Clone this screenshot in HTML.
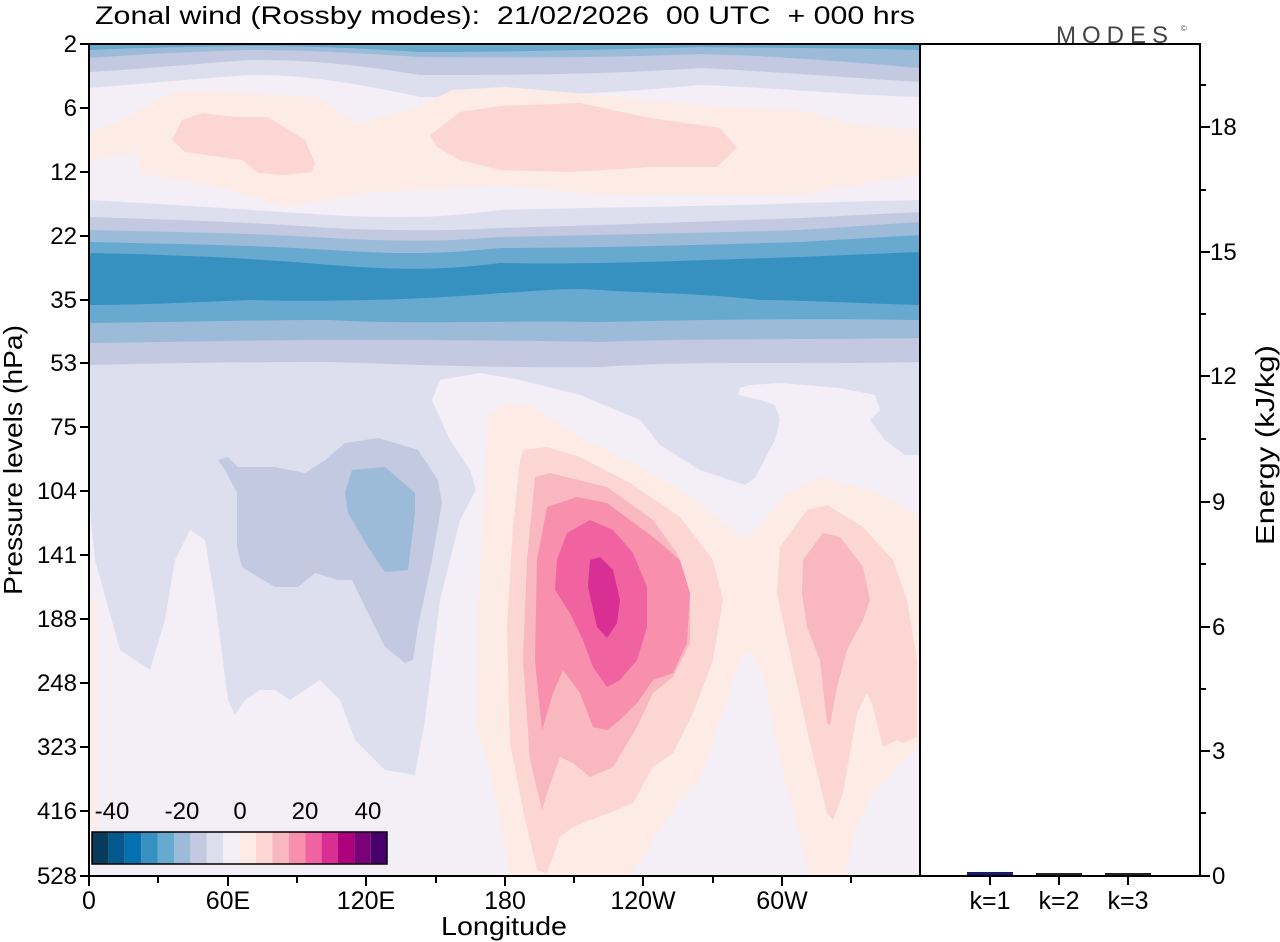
<!DOCTYPE html>
<html><head><meta charset="utf-8"><style>
body{margin:0;background:#fff;}
svg{display:block;font-family:"Liberation Sans",sans-serif;}
</style></head><body>
<svg width="1280" height="942" viewBox="0 0 1280 942" xmlns="http://www.w3.org/2000/svg">
<defs><clipPath id="cp"><rect x="89" y="44" width="831" height="832"/></clipPath></defs>
<g clip-path="url(#cp)">
<rect x="89" y="44" width="831" height="832" fill="#f4eff6"/>
<path d="M89,44 L920,44 L920,97 C850,95 780,88 700,85 C600,95 500,97 420,97 C340,80 300,75 250,75 C180,80 130,85 89,88 Z" fill="#dedfee"/>
<path d="M89,44 L920,44 L920,82 C850,78 780,72 700,68 C600,75 500,75 420,75 C340,62 300,60 250,60 C180,65 130,70 89,72 Z" fill="#c3c9e1"/>
<path d="M89,44 L920,44 L920,68 C850,62 780,56 700,54 C600,58 500,58 420,57 C340,52 300,50 250,50 C180,52 130,55 89,58 Z" fill="#9bbbd9"/>
<path d="M89,44 L920,44 L920,50 C850,48 780,48 700,47 C600,50 500,52 420,52 C340,47 300,46 250,46 C180,47 130,48 89,50 Z" fill="#67a9cf"/>
<path d="M89,133 L122,120 L162,97 L185,90 L318,97 L358,123 L418,107 L452,90 L505,87 L600,95 L700,105 L800,110 L860,125 L920,130 L920,175 L860,185 L800,195 L700,195 L600,195 L505,185 L420,190 L368,193 L285,207 L218,187 L138,173 L138,153 L92,160 L89,160 Z" fill="#fdebe6"/>
<path d="M172,140 L182,120 L202,113 L235,117 L268,117 L305,140 L315,163 L312,172 L285,175 L258,173 L242,160 L185,152 Z" fill="#fbd6d3"/>
<path d="M430,135 L460,112 L500,106 L580,103 L650,118 L720,128 L737,148 L717,167 L650,167 L570,172 L500,170 L460,160 L437,147 Z" fill="#fbd6d3"/>
<path d="M89,200 C180,205 250,210 330,215 C420,220 460,215 500,210 C600,207 700,207 800,203 L920,200 L920,455 L905,455 L885,440 L870,420 L880,410 L875,395 L840,388 L780,383 L750,385 L740,388 L738,395 L760,400 L775,405 L780,420 L775,440 L755,478 L745,485 L700,470 L660,445 L640,420 L580,395 L520,380 L480,373 L440,380 L432,400 L450,440 L470,470 L476,490 L460,520 L440,600 L425,720 L415,775 L385,770 L355,740 L340,700 L320,680 L305,690 L290,700 L275,690 L260,690 L245,700 L235,715 L228,700 L215,600 L205,540 L190,530 L175,560 L165,620 L150,670 L120,650 L95,560 L89,500 Z" fill="#dedfee"/>
<path d="M89,217 C180,220 250,222 330,228 C420,232 460,230 500,228 C600,225 700,222 800,218 L920,212 L920,362 C800,365 700,360 600,367 C500,368 420,365 330,362 C250,362 180,363 89,365 Z" fill="#c3c9e1"/>
<path d="M89,230 C180,232 250,233 330,238 C420,243 460,240 500,237 C600,235 700,233 800,230 L920,222 L920,338 C800,340 700,338 600,342 C500,340 420,340 330,340 C250,340 180,342 89,343 Z" fill="#9bbbd9"/>
<path d="M89,242 C180,244 250,245 330,250 C420,256 460,252 500,248 C600,248 700,245 800,242 L920,235 L920,320 C800,318 700,320 600,322 C500,320 420,325 330,320 C250,320 180,322 89,323 Z" fill="#67a9cf"/>
<path d="M89,253 C180,255 250,258 330,265 C420,272 460,268 500,263 C600,265 700,260 800,257 L920,252 L920,305 C850,303 800,300 760,300 C700,293 640,293 600,290 C560,287 520,293 500,293 C420,300 330,302 250,300 C180,303 130,305 89,305 Z" fill="#3690c0"/>
<path d="M218,460 L228,457 L238,467 L275,467 L305,473 L325,460 L345,443 L378,438 L418,450 L438,480 L442,503 L432,560 L418,627 L413,660 L405,663 L385,647 L368,613 L352,580 L338,580 L315,573 L298,587 L275,587 L258,577 L242,567 L237,547 L237,493 L225,470 Z" fill="#c3c9e1"/>
<path d="M345,493 L352,470 L385,467 L415,493 L415,513 L408,570 L385,572 L368,547 L348,513 Z" fill="#9bbbd9"/>
<path d="M490,413 L507,403 L533,407 L580,437 L647,470 L697,500 L740,537 L753,533 L787,493 L820,477 L880,493 L913,513 L920,520 L920,745 L890,775 L870,800 L855,830 L845,876 L810,876 L790,800 L775,740 L765,680 L750,650 L740,660 L720,720 L700,780 L680,800 L630,876 L510,876 L495,793 L477,727 L478,610 L488,417 Z" fill="#fdebe6"/>
<rect x="89" y="600" width="10" height="230" fill="#fdebe6" opacity="0.6"/>
<path d="M520,460 L523,450 L547,447 L580,457 L630,483 L680,517 L713,560 L723,600 L713,660 L693,713 L673,753 L653,767 L633,803 L617,810 L590,820 L573,827 L560,837 L547,873 L537,870 L523,810 L510,743 L507,627 L513,527 Z" fill="#fbd6d3"/>
<path d="M777,593 L780,547 L807,510 L827,505 L863,527 L893,560 L907,600 L917,660 L917,737 L903,743 L897,740 L883,747 L873,707 L867,693 L857,713 L843,793 L833,820 L827,813 L810,743 L790,653 Z" fill="#fbd6d3"/>
<path d="M527,560 L535,477 L550,473 L607,487 L653,520 L677,553 L690,593 L690,643 L673,677 L653,693 L637,727 L613,767 L590,777 L573,763 L560,757 L547,793 L542,810 L530,760 L523,660 Z" fill="#f9b7bf"/>
<path d="M802,593 L803,560 L823,533 L840,537 L863,567 L870,600 L863,620 L847,650 L837,687 L830,725 L827,723 L820,660 L807,627 Z" fill="#f9b7bf"/>
<path d="M537,560 L547,507 L577,497 L607,503 L653,537 L680,560 L690,593 L687,643 L673,673 L653,680 L637,703 L620,720 L607,730 L593,727 L580,693 L563,670 L553,693 L542,730 L535,660 Z" fill="#f78fad"/>
<path d="M557,560 L567,533 L590,520 L613,530 L633,553 L647,587 L647,627 L637,660 L620,680 L607,687 L593,667 L583,640 L570,613 L555,590 Z" fill="#f062a0"/>
<path d="M588,587 L590,560 L600,557 L613,570 L620,600 L617,623 L607,638 L597,627 Z" fill="#d92f95"/>
</g>
<g>
<rect x="92" y="832" width="16.4" height="32" fill="#083a5a"/>
<rect x="108.4" y="832" width="16.4" height="32" fill="#055a8c"/>
<rect x="124.8" y="832" width="16.4" height="32" fill="#0570b0"/>
<rect x="141.2" y="832" width="16.4" height="32" fill="#3690c0"/>
<rect x="157.6" y="832" width="16.4" height="32" fill="#67a9cf"/>
<rect x="174" y="832" width="16.4" height="32" fill="#9bbbd9"/>
<rect x="190.4" y="832" width="16.4" height="32" fill="#c3c9e1"/>
<rect x="206.8" y="832" width="16.4" height="32" fill="#dedfee"/>
<rect x="223.2" y="832" width="16.4" height="32" fill="#f4eff6"/>
<rect x="239.6" y="832" width="16.4" height="32" fill="#fdebe6"/>
<rect x="256" y="832" width="16.4" height="32" fill="#fbd6d3"/>
<rect x="272.4" y="832" width="16.4" height="32" fill="#f9b7bf"/>
<rect x="288.8" y="832" width="16.4" height="32" fill="#f78fad"/>
<rect x="305.2" y="832" width="16.4" height="32" fill="#f062a0"/>
<rect x="321.6" y="832" width="16.4" height="32" fill="#d92f95"/>
<rect x="338" y="832" width="16.4" height="32" fill="#ae017e"/>
<rect x="354.4" y="832" width="16.4" height="32" fill="#7a0177"/>
<rect x="370.8" y="832" width="16.2" height="32" fill="#49006a"/>
<rect x="92" y="832" width="295" height="32" fill="none" stroke="#000" stroke-width="1.5"/>
<g font-size="24" text-anchor="middle" fill="#000">
<text x="112" y="819">-40</text><text x="182" y="819">-20</text><text x="240" y="819">0</text><text x="305" y="819">20</text><text x="368" y="819">40</text>
</g>
</g>
<g stroke="#000" stroke-width="2" fill="none">
<rect x="89" y="44" width="1111" height="832"/>
<line x1="920" y1="44" x2="920" y2="876"/>
</g>
<rect x="967" y="872" width="46" height="3" fill="#1a1a6e"/>
<rect x="1036" y="873" width="46" height="2" fill="#222"/>
<rect x="1105" y="873" width="46" height="2" fill="#222"/>
<g stroke="#000" stroke-width="2">
<line x1="80" y1="44" x2="89" y2="44"/><line x1="80" y1="108" x2="89" y2="108"/><line x1="80" y1="172" x2="89" y2="172"/><line x1="80" y1="236" x2="89" y2="236"/><line x1="80" y1="300" x2="89" y2="300"/><line x1="80" y1="363" x2="89" y2="363"/><line x1="80" y1="427" x2="89" y2="427"/><line x1="80" y1="491" x2="89" y2="491"/><line x1="80" y1="555" x2="89" y2="555"/><line x1="80" y1="619" x2="89" y2="619"/><line x1="80" y1="683" x2="89" y2="683"/><line x1="80" y1="747" x2="89" y2="747"/><line x1="80" y1="811" x2="89" y2="811"/><line x1="80" y1="876" x2="89" y2="876"/>
<line x1="89" y1="876" x2="89" y2="886"/><line x1="158" y1="876" x2="158" y2="883"/><line x1="228" y1="876" x2="228" y2="886"/><line x1="297" y1="876" x2="297" y2="883"/><line x1="366" y1="876" x2="366" y2="886"/><line x1="436" y1="876" x2="436" y2="883"/><line x1="505" y1="876" x2="505" y2="886"/><line x1="574" y1="876" x2="574" y2="883"/><line x1="643" y1="876" x2="643" y2="886"/><line x1="713" y1="876" x2="713" y2="883"/><line x1="782" y1="876" x2="782" y2="886"/><line x1="851" y1="876" x2="851" y2="883"/>
<line x1="990" y1="876" x2="990" y2="885"/><line x1="1059" y1="876" x2="1059" y2="885"/><line x1="1128" y1="876" x2="1128" y2="885"/>
<line x1="1200" y1="876" x2="1210" y2="876"/><line x1="1200" y1="813" x2="1206" y2="813"/><line x1="1200" y1="751" x2="1210" y2="751"/><line x1="1200" y1="689" x2="1206" y2="689"/><line x1="1200" y1="627" x2="1210" y2="627"/><line x1="1200" y1="564" x2="1206" y2="564"/><line x1="1200" y1="502" x2="1210" y2="502"/><line x1="1200" y1="439" x2="1206" y2="439"/><line x1="1200" y1="376" x2="1210" y2="376"/><line x1="1200" y1="314" x2="1206" y2="314"/><line x1="1200" y1="252" x2="1210" y2="252"/><line x1="1200" y1="190" x2="1206" y2="190"/><line x1="1200" y1="127" x2="1210" y2="127"/><line x1="1200" y1="85" x2="1206" y2="85"/>
</g>
<g font-size="24" text-anchor="end" fill="#000">
<text x="77" y="52">2</text><text x="77" y="116">6</text><text x="77" y="180">12</text><text x="77" y="244">22</text><text x="77" y="308">35</text><text x="77" y="371">53</text><text x="77" y="435">75</text><text x="77" y="499">104</text><text x="77" y="563">141</text><text x="77" y="627">188</text><text x="77" y="691">248</text><text x="77" y="755">323</text><text x="77" y="819">416</text><text x="77" y="884">528</text>
</g>
<g font-size="24" text-anchor="start" fill="#000">
<text x="1212" y="884">0</text><text x="1212" y="759">3</text><text x="1212" y="635">6</text><text x="1212" y="510">9</text><text x="1210" y="384">12</text><text x="1210" y="260">15</text><text x="1210" y="135">18</text>
</g>
<g font-size="25" text-anchor="middle" fill="#000">
<text x="89" y="909">0</text><text x="228" y="909">60E</text><text x="366" y="909">120E</text><text x="505" y="909">180</text><text x="643" y="909">120W</text><text x="782" y="909">60W</text>
<text x="990" y="909">k=1</text><text x="1059" y="909">k=2</text><text x="1128" y="909">k=3</text>
<text x="504" y="935" font-size="26" textLength="126" lengthAdjust="spacingAndGlyphs">Longitude</text>
<text transform="translate(22,460) rotate(-90)" font-size="26" textLength="270" lengthAdjust="spacingAndGlyphs">Pressure levels (hPa)</text>
<text transform="translate(1274,445) rotate(-90)" font-size="26" textLength="200" lengthAdjust="spacingAndGlyphs">Energy (kJ/kg)</text>
</g>
<text x="95" y="24" font-size="25" fill="#000" xml:space="preserve" style="white-space:pre" textLength="820" lengthAdjust="spacingAndGlyphs">Zonal wind (Rossby modes):  21/02/2026  00 UTC  + 000 hrs</text>
<text x="1056" y="43" font-size="24" fill="#444" letter-spacing="6">MODES</text>
<text x="1181" y="31" font-size="8" fill="#555">©</text>
</svg>
</body></html>
